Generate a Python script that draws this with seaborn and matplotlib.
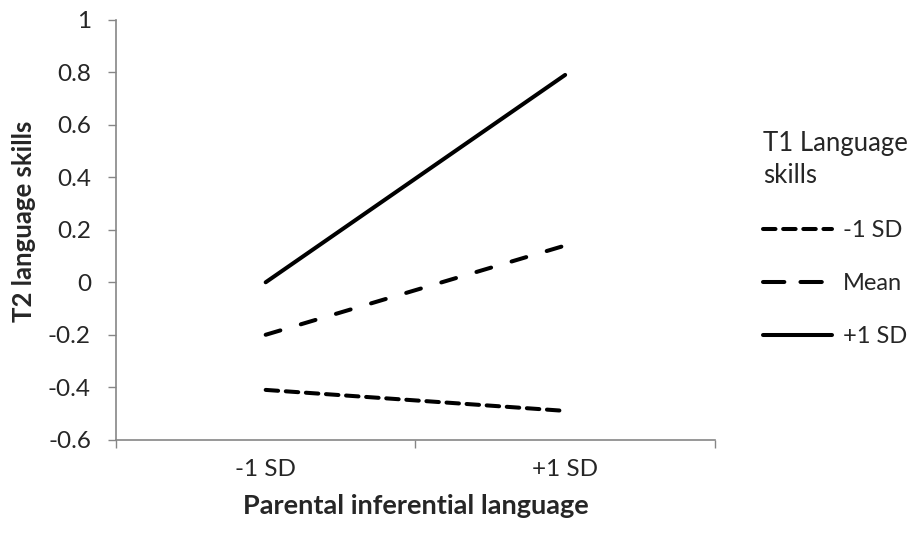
import matplotlib
matplotlib.use('Agg')
import matplotlib.pyplot as plt
import seaborn as sns
import pandas as pd

# data
x_labels = ['-1 SD', '+1 SD']
groups = ['-1 SD', 'Mean', '+1 SD']
low_t1 = [-0.41, -0.49]
mean_t1 = [-0.20, 0.14]
high_t1 = [0.00, 0.79]
y_ticks = [-0.6, -0.4, -0.2, 0, 0.2, 0.4, 0.6, 0.8, 1]

rows = []
for g, vals in zip(groups, [low_t1, mean_t1, high_t1]):
    for i, v in enumerate(vals):
        rows.append({'x': i, 'y': v, 'group': g})
df = pd.DataFrame(rows)

sns.set_style('white')
plt.rcParams['font.family'] = ['Lato', 'DejaVu Sans']
plt.rcParams['lines.dash_capstyle'] = 'round'
plt.rcParams['lines.solid_capstyle'] = 'round'

fig = plt.figure(figsize=(9.13, 5.35), dpi=100)
ax = fig.add_axes([0.127, 0.178, 0.656, 0.785])

dashes = {'-1 SD': (3.1, 1.9), 'Mean': (3.8, 5.3), '+1 SD': ''}
sns.lineplot(data=df, x='x', y='y', hue='group', style='group',
             hue_order=groups, style_order=groups,
             palette=['black'] * 3, dashes=dashes, linewidth=2.9, ax=ax)

ax.set_xlim(-0.5, 1.5)
ax.set_ylim(-0.6, 1)
ax.set_yticks(y_ticks)
ax.set_yticklabels(['-0.6', '-0.4', '-0.2', '0', '0.2', '0.4', '0.6', '0.8', '1'])
ax.set_xticks([-0.5, 0.5, 1.5])
ax.set_xticklabels([])
ax.set_xticks([0, 1], minor=True)
ax.set_xticklabels(x_labels, minor=True)
ax.tick_params(axis='x', which='minor', length=0, pad=14, labelsize=17.5)
ax.tick_params(axis='x', which='major', length=6, width=1, color='#868686', direction='out', bottom=True)
ax.tick_params(axis='y', length=6, width=1, color='#868686', direction='out', left=True, pad=12, labelsize=17.5)

for s in ['top', 'right']:
    ax.spines[s].set_visible(False)
for s in ['left', 'bottom']:
    ax.spines[s].set_color('#868686')
    ax.spines[s].set_linewidth(1.2)

ax.set_xlabel('Parental inferential language', fontsize=19.5, fontweight='bold', labelpad=10)
ax.set_ylabel('T2 language skills', fontsize=18.5, fontweight='bold', va='center')
ax.yaxis.set_label_coords(-0.154, 0.52)

handles, labels = ax.get_legend_handles_labels()
leg = ax.legend(handles, labels, title='T1 Language\nskills', frameon=False,
                loc='upper left', bbox_to_anchor=(1.045, 0.785), fontsize=17,
                title_fontsize=18.5, handlelength=2.9, handletextpad=0.5,
                labelspacing=1.35, alignment='left')
leg.get_title().set_linespacing(1.35)
leg_lines = leg.get_lines()
for line in leg_lines:
    line.set_linewidth(2.9)
leg_lines[1].set_dashes((5.3, 4.0))

fig.savefig('out.png', dpi=100)
